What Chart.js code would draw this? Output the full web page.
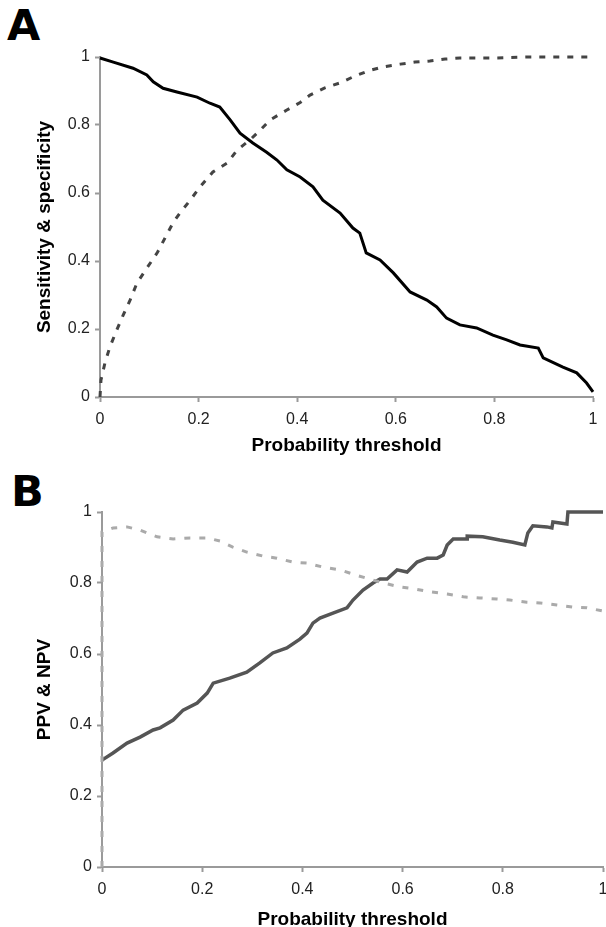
<!DOCTYPE html>
<html>
<head>
<meta charset="utf-8">
<script src="https://cdn.jsdelivr.net/npm/chart.js@4.4.0/dist/chart.umd.min.js"></script>
<style>
    body { margin: 0; background: #fff; overflow: hidden; width: 606px; height: 927px; position: relative; }
    canvas { position: absolute; left: 0; }
    #chartA { top: 0; }
    #chartB { top: 465px; }
    .panel-tag { position: absolute; font: bold 43px 'DejaVu Sans', sans-serif; line-height: 43px; color: #000; }
</style>
</head>
<body>
<div class="panel-tag" style="left:7px; top:4px;">A</div>
<div class="panel-tag" style="left:11px; top:470px;">B</div>
<canvas id="chartA" width="606" height="460"></canvas>
<canvas id="chartB" width="620" height="480"></canvas>
<script>
// tick labels shared by both panels
const tickValues = [0, 0.2, 0.4, 0.6, 0.8, 1];
const tickLabels = ['0', '0.2', '0.4', '0.6', '0.8', '1'];

// panel A - specificity (solid)
const specX = [0, 0.027, 0.067, 0.095, 0.108, 0.128, 0.156, 0.197, 0.223, 0.243, 0.264, 0.284, 0.31, 0.338, 0.359, 0.379, 0.406, 0.432, 0.452, 0.487, 0.513, 0.527, 0.54, 0.568, 0.595, 0.629, 0.663, 0.683, 0.703, 0.73, 0.764, 0.797, 0.825, 0.852, 0.889, 0.899, 0.939, 0.967, 0.987, 1.0];
const specY = [0.997, 0.985, 0.967, 0.947, 0.927, 0.908, 0.897, 0.882, 0.864, 0.853, 0.815, 0.776, 0.747, 0.72, 0.697, 0.668, 0.647, 0.618, 0.579, 0.541, 0.497, 0.482, 0.424, 0.403, 0.365, 0.309, 0.285, 0.265, 0.232, 0.212, 0.203, 0.182, 0.168, 0.153, 0.144, 0.115, 0.088, 0.071, 0.041, 0.015];

// panel A - sensitivity (dashed)
const sensX = [0, 0.002, 0.01, 0.02, 0.034, 0.047, 0.061, 0.075, 0.095, 0.116, 0.132, 0.148, 0.162, 0.183, 0.203, 0.229, 0.258, 0.278, 0.304, 0.325, 0.345, 0.379, 0.406, 0.426, 0.456, 0.487, 0.517, 0.544, 0.574, 0.609, 0.639, 0.669, 0.7, 0.73, 0.797, 0.866, 1.0];
const sensY = [0, 0.05, 0.1, 0.147, 0.197, 0.241, 0.285, 0.335, 0.379, 0.424, 0.468, 0.512, 0.541, 0.579, 0.618, 0.662, 0.688, 0.726, 0.756, 0.785, 0.815, 0.844, 0.866, 0.888, 0.909, 0.924, 0.944, 0.959, 0.971, 0.979, 0.985, 0.988, 0.994, 0.997, 0.997, 1.0, 1.0];

// panel B - PPV (solid)
const ppvX = [0, 0.022, 0.05, 0.076, 0.102, 0.116, 0.142, 0.162, 0.19, 0.21, 0.222, 0.255, 0.289, 0.315, 0.341, 0.369, 0.395, 0.409, 0.421, 0.435, 0.461, 0.489, 0.501, 0.521, 0.541, 0.555, 0.569, 0.589, 0.609, 0.629, 0.649, 0.669, 0.681, 0.689, 0.701, 0.729, 0.729, 0.76, 0.794, 0.82, 0.844, 0.85, 0.86, 0.888, 0.898, 0.9, 0.928, 0.93, 1.0];
const ppvY = [0.301, 0.321, 0.349, 0.366, 0.386, 0.392, 0.414, 0.442, 0.462, 0.49, 0.518, 0.532, 0.549, 0.575, 0.603, 0.617, 0.642, 0.659, 0.687, 0.701, 0.715, 0.73, 0.752, 0.78, 0.8, 0.811, 0.811, 0.837, 0.831, 0.859, 0.87, 0.87, 0.879, 0.907, 0.924, 0.924, 0.932, 0.93, 0.921, 0.915, 0.907, 0.941, 0.961, 0.958, 0.955, 0.972, 0.966, 1.0, 1.0];

// panel B - NPV (dashed)
const npvX = [0, 0, 0.022, 0.05, 0.076, 0.11, 0.142, 0.176, 0.21, 0.236, 0.261, 0.289, 0.321, 0.349, 0.381, 0.409, 0.441, 0.475, 0.505, 0.535, 0.561, 0.595, 0.625, 0.655, 0.689, 0.721, 0.754, 0.788, 0.814, 0.848, 0.874, 0.908, 0.94, 0.968, 1.0];
const npvY = [0, 0.944, 0.955, 0.958, 0.949, 0.93, 0.924, 0.927, 0.927, 0.918, 0.901, 0.887, 0.876, 0.87, 0.859, 0.856, 0.845, 0.837, 0.823, 0.811, 0.8, 0.789, 0.783, 0.775, 0.769, 0.761, 0.758, 0.755, 0.752, 0.746, 0.744, 0.738, 0.732, 0.73, 0.721];

const FONT = "'Liberation Sans', Arial, sans-serif";

function toPoints(xs, ys) {
    return xs.map((x, i) => ({ x: x, y: ys[i] }));
}

function lineSet(xs, ys, color, width, dash) {
    return {
        data: toPoints(xs, ys),
        borderColor: color,
        borderWidth: width,
        borderDash: dash,
        pointRadius: 0,
        tension: 0,
        fill: false,
        clip: false
    };
}

function axis(pos, title, titlePad, fitSize) {
    return {
        type: 'linear',
        position: pos,
        min: 0,
        max: 1,
        afterBuildTicks: scale => {
            scale.ticks = tickValues.map(v => ({ value: v }));
        },
        afterFit: scale => {
            if (pos === 'bottom') scale.height = fitSize;
            else scale.width = fitSize;
        },
        border: { color: '#9a9a9a', width: 2 },
        grid: {
            drawOnChartArea: false,
            drawTicks: true,
            tickLength: 5,
            tickColor: '#9a9a9a',
            tickWidth: 2
        },
        ticks: {
            color: '#222',
            font: { family: FONT, size: 16 },
            padding: pos === 'bottom' ? 8 : 5,
            maxRotation: 0,
            callback: (v, i) => tickLabels[i]
        },
        title: {
            display: true,
            text: title,
            color: '#000',
            font: { family: FONT, size: 19, weight: 'bold' },
            padding: pos === 'bottom' ? { top: 0, bottom: titlePad } : { top: titlePad, bottom: 0 }
        }
    };
}

function makeChart(id, datasets, pad, yTitle, xFit, yFit, xTitlePad) {
    const ctx = document.getElementById(id).getContext('2d');
    return new Chart(ctx, {
        type: 'line',
        data: { datasets: datasets },
        options: {
            responsive: false,
            animation: false,
            devicePixelRatio: 1,
            layout: { padding: pad },
            scales: {
                x: axis('bottom', 'Probability threshold', xTitlePad, xFit),
                y: axis('left', yTitle, 33, yFit)
            },
            plugins: {
                legend: { display: false },
                tooltip: { enabled: false }
            }
        }
    });
}

// panel A: plot area 100..593 x 57..397
makeChart('chartA', [
    lineSet(sensX, sensY, '#444', 3, [6, 8]),
    lineSet(specX, specY, '#000', 3, [])
], { top: 57, left: 0, right: 13, bottom: 0 }, 'Sensitivity & specificity', 63, 100, 3);

// panel B: plot area 102..603 x 512..867 (canvas starts at 465)
makeChart('chartB', [
    lineSet(npvX, npvY, '#aaa', 3, [6, 9]),
    lineSet(ppvX, ppvY, '#555', 3.5, [])
], { top: 47, left: 0, right: 17, bottom: 0 }, 'PPV & NPV', 78, 102, 14);
</script>
</body>
</html>
